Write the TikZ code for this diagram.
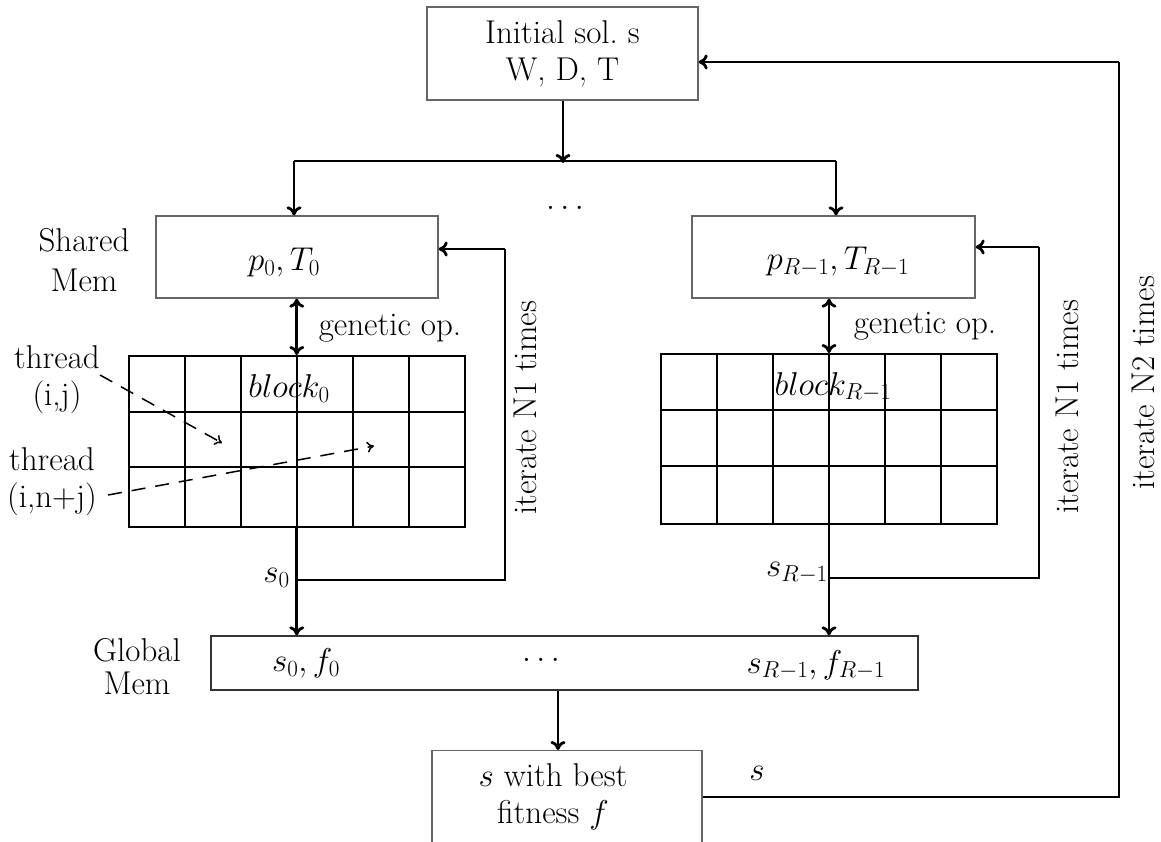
\RequirePackage{fix-cm}
\documentclass[tikz,border=0pt]{standalone}
\usepackage{fontspec}
\usetikzlibrary{arrows.meta}
\begin{document}
\begin{tikzpicture}[x=1pt,y=-1pt,
  font=\fontsize{33}{37}\selectfont,
  conn/.style={line width=2.8pt},
  arr/.style={conn,-{To[length=9pt,width=15pt]}},
  darr/.style={conn,{To[length=9pt,width=15pt]}-{To[length=9pt,width=15pt]}},
  box/.style={draw=black!60, line width=1.3pt, inner sep=0pt},
  gridline/.style={line width=2pt},
  dasharr/.style={line width=1.5pt, dash pattern=on 14pt off 10pt, -{To[length=7pt,width=11pt]}},
  lbl/.style={inner sep=0pt, align=center}
]
\clip (0,0) rectangle (1161,841);
\fill[white] (0,0) rectangle (1161,841);

% top box
\node[box, minimum width=271pt, minimum height=93pt, align=center] (init) at (562.5,53.5) {Initial sol.\ s\\W, D, T};

% shared memory boxes
\node[box, minimum width=282pt, minimum height=82pt] (sm0) at (297,257) {};
\node[lbl] (sm0t) at (284,262) {$p_0, T_0$};
\node[box, minimum width=283pt, minimum height=82pt] (sm1) at (833.5,257) {};
\node[lbl] (sm1t) at (838,262) {$p_{R-1}, T_{R-1}$};
\node[lbl] (shl) at (84,260) {Shared\\[3pt]Mem};
\node[lbl] (topdots) at (565,208) {$\dots$};

% split from top
\coordinate (split) at (563,161);
\coordinate (splitL) at (294,161);
\coordinate (splitR) at (836,161);
\draw[arr] (init.south -| split) -- ([yshift=-2pt]split);
\draw[conn] (splitL) -- (splitR);
\draw[arr] (splitL) -- (splitL |- sm0.north);
\draw[arr] (splitR) -- (splitR |- sm1.north);

% grids
\node[draw, gridline, minimum width=336.5pt, minimum height=171pt, inner sep=0pt] (g0) at (296.75,441.5) {};
\foreach \xx in {184.6,240.7,296.8,352.9,409} \draw[gridline] (\xx,356) -- (\xx,527);
\foreach \yy in {411.5,467} \draw[gridline] (128.5,\yy) -- (465,\yy);
\node[draw, gridline, minimum width=336pt, minimum height=170pt, inner sep=0pt] (g1) at (829,439) {};
\foreach \xx in {717,773,829,885,941} \draw[gridline] (\xx,354) -- (\xx,524);
\foreach \yy in {409.5,466} \draw[gridline] (661,\yy) -- (997,\yy);

\node[lbl] (b0) at (289,389) {$block_0$};
\node[lbl] (b1) at (833,387) {$block_{R-1}$};

% genetic op arrows
\draw[darr] (sm0.south -| g0.north) -- (g0.north);
\draw[darr] (sm1.south -| g1.north) -- (g1.north);
\node[lbl] (gop0) at (390,328) {genetic op.};
\node[lbl] (gop1) at (925,326) {genetic op.};

% thread labels
\node[lbl] (th1) at (57,380) {thread\\(i,j)};
\node[lbl] (th2) at (52,482) {thread\\(i,n+j)};
\coordinate (t1s) at (100,375);
\coordinate (t1e) at (222,443);
\coordinate (t2s) at (108,495);
\coordinate (t2e) at (374,446);
\draw[dasharr] (t1s) -- (t1e);
\draw[dasharr] (t2s) -- (t2e);

% global memory
\node[box, draw=black!80, minimum width=707pt, minimum height=54pt] (glob) at (564.5,663) {};
\node[lbl] (gml) at (137,667) {Global\\[-4pt]Mem};
\node[lbl] (gs0) at (306,663) {$s_0, f_0$};
\node[lbl] (gdots) at (541,660) {$\dots$};
\node[lbl] (gs1) at (816,665) {$s_{R-1}, f_{R-1}$};

% outputs from grids
\coordinate (c0) at (296.75,580);
\coordinate (c0r) at (505,580);
\coordinate (c0u) at (505,249);
\draw[arr] (g0.south) -- (g0.south |- glob.north);
\draw[conn] (c0) -- (c0r) -- (c0u);
\draw[arr] (c0u) -- (c0u -| sm0.east);
\node[lbl, anchor=east] (s0l) at (290,578) {$s_0$};
\node[lbl, rotate=90] (n1a) at (525,408) {iterate N1 times};

\coordinate (c1) at (829,578);
\coordinate (c1r) at (1039,578);
\coordinate (c1u) at (1039,247);
\draw[arr] (g1.south) -- (g1.south |- glob.north);
\draw[conn] (c1) -- (c1r) -- (c1u);
\draw[arr] (c1u) -- (c1u -| sm1.east);
\node[lbl, anchor=east] (s1l) at (828,573) {$s_{R-1}$};
\node[lbl, rotate=90] (n1b) at (1067,407) {iterate N1 times};

% best
\node[box, minimum width=270pt, minimum height=110pt, anchor=north] (best) at (567,750) {};
\node[lbl] (bestt) at (553,797) {$s$ with best\\fitness $f$};
\draw[arr] (glob.south -| 558,0) -- (best.north -| 558,0);

% outer loop
\coordinate (o1) at (1119,797);
\coordinate (o2) at (1119,62);
\draw[conn] (best.east |- o1) -- (o1) -- (o2);
\draw[arr] (o2) -- (o2 -| init.east);
\node[lbl] (sl) at (757,773) {$s$};
\node[lbl, rotate=90] (n2) at (1143,383) {iterate N2 times};
\end{tikzpicture}
\end{document}
